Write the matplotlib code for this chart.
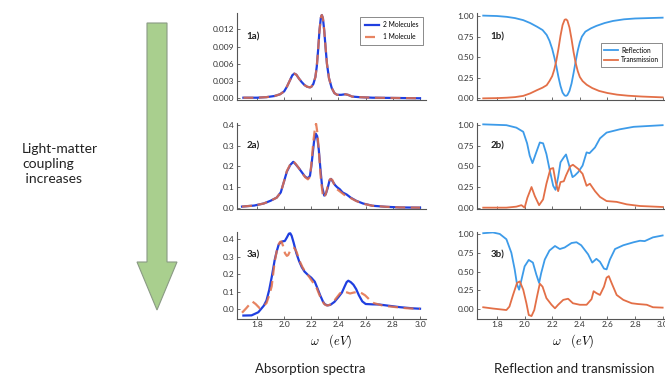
import matplotlib
matplotlib.use("Agg")
import matplotlib.pyplot as plt
from matplotlib.patches import Polygon

plt.rcParams["font.family"] = ["Lato", "DejaVu Sans"]
plt.rcParams["mathtext.fontset"] = "cm"

# ----------------------------------------------------------------------------
# Data
# ----------------------------------------------------------------------------
# 1a) absorption, weak coupling (both curves coincide)
abs1_x = [1.70, 1.80, 1.87, 1.93, 1.97, 2.00, 2.02, 2.04, 2.06, 2.075, 2.09, 2.11,
          2.13, 2.15, 2.17, 2.19, 2.20, 2.215, 2.23, 2.24, 2.25, 2.26, 2.27, 2.277,
          2.285, 2.295, 2.305, 2.315, 2.33, 2.35, 2.37, 2.39, 2.42, 2.45, 2.47,
          2.50, 2.55, 2.65, 3.0]
abs1_two = [0.0001, 0.0001, 0.0002, 0.0004, 0.0007, 0.0012, 0.0020, 0.0030, 0.0040,
            0.0043, 0.0041, 0.0034, 0.0028, 0.0023, 0.0020, 0.0019, 0.0020, 0.0025,
            0.0037, 0.0055, 0.0084, 0.0118, 0.0140, 0.0145, 0.0140, 0.0118, 0.0088,
            0.0060, 0.0035, 0.0018, 0.0009, 0.0006, 0.0006, 0.0007, 0.0006, 0.0003,
            0.0002, 0.0001, 0.0000]
abs1_one = abs1_two

# 2a) absorption, medium coupling
abs2_x_two = [1.69, 1.78, 1.85, 1.90, 1.945, 1.975, 2.00, 2.02, 2.045, 2.067, 2.085,
              2.11, 2.13, 2.155, 2.175, 2.19, 2.20, 2.21, 2.22, 2.233, 2.243, 2.255,
              2.268, 2.28, 2.295, 2.305, 2.32, 2.335, 2.345, 2.36, 2.375, 2.39, 2.41,
              2.43, 2.46, 2.49, 2.53, 2.58, 2.65, 2.75, 2.85, 3.0]
abs2_two = [0.007, 0.012, 0.022, 0.035, 0.050, 0.075, 0.130, 0.175, 0.207, 0.222, 0.210,
            0.190, 0.172, 0.150, 0.143, 0.155, 0.200, 0.260, 0.320, 0.357, 0.345, 0.280,
            0.180, 0.100, 0.060, 0.065, 0.095, 0.135, 0.140, 0.125, 0.110, 0.100, 0.090,
            0.075, 0.065, 0.050, 0.035, 0.022, 0.011, 0.006, 0.003, 0.002]
abs2_x_one = [1.69, 1.78, 1.85, 1.90, 1.945, 1.975, 2.00, 2.02, 2.045, 2.067, 2.085,
              2.11, 2.13, 2.155, 2.175, 2.19, 2.20, 2.215, 2.228, 2.235, 2.245, 2.258,
              2.27, 2.285, 2.295, 2.31, 2.325, 2.34, 2.355, 2.37, 2.39, 2.42, 2.45,
              2.49, 2.53, 2.58, 2.65, 2.75, 2.85, 3.0]
abs2_one = [0.007, 0.012, 0.022, 0.035, 0.050, 0.075, 0.130, 0.178, 0.210, 0.225, 0.212,
            0.190, 0.170, 0.148, 0.138, 0.150, 0.210, 0.320, 0.390, 0.405, 0.360, 0.250,
            0.140, 0.060, 0.050, 0.075, 0.120, 0.140, 0.135, 0.110, 0.090, 0.075, 0.060,
            0.048, 0.034, 0.021, 0.011, 0.006, 0.003, 0.002]

# 3a) absorption, strong coupling
abs3_x_two = [1.70, 1.76, 1.81, 1.85, 1.87, 1.89, 1.91, 1.93, 1.945, 1.96, 1.975, 1.99,
              2.005, 2.02, 2.035, 2.045, 2.055, 2.07, 2.09, 2.11, 2.13, 2.15, 2.175,
              2.20, 2.225, 2.245, 2.265, 2.285, 2.30, 2.32, 2.34, 2.37, 2.40, 2.425,
              2.445, 2.46, 2.472, 2.49, 2.51, 2.53, 2.55, 2.575, 2.60, 2.65, 2.70,
              2.75, 2.85, 2.95, 3.0]
abs3_two = [-0.036, -0.035, -0.017, 0.020, 0.050, 0.110, 0.190, 0.280, 0.330, 0.370,
            0.383, 0.388, 0.390, 0.410, 0.432, 0.434, 0.420, 0.380, 0.320, 0.275, 0.240,
            0.215, 0.196, 0.180, 0.158, 0.120, 0.080, 0.045, 0.028, 0.022, 0.025, 0.042,
            0.070, 0.095, 0.130, 0.155, 0.163, 0.155, 0.140, 0.115, 0.080, 0.045, 0.030,
            0.028, 0.027, 0.022, 0.012, 0.005, 0.003]
abs3_x_one = [1.69, 1.72, 1.748, 1.766, 1.79, 1.82, 1.85, 1.87, 1.89, 1.908, 1.93, 1.945,
              1.957, 1.97, 1.98, 1.993, 2.006, 2.02, 2.03, 2.045, 2.06, 2.075, 2.09,
              2.117, 2.135, 2.154, 2.18, 2.20, 2.22, 2.24, 2.258, 2.276, 2.295, 2.313,
              2.335, 2.36, 2.385, 2.41, 2.43, 2.455, 2.485, 2.51, 2.546, 2.57, 2.595,
              2.615, 2.63, 2.66, 2.73, 2.80, 2.90, 3.0]
abs3_one = [-0.020, 0.005, 0.030, 0.044, 0.030, 0.006, 0.020, 0.035, 0.080, 0.130, 0.270,
            0.330, 0.367, 0.385, 0.387, 0.360, 0.320, 0.305, 0.310, 0.335, 0.350, 0.350,
            0.330, 0.270, 0.240, 0.215, 0.190, 0.167, 0.145, 0.120, 0.085, 0.053, 0.030,
            0.021, 0.025, 0.040, 0.065, 0.090, 0.102, 0.098, 0.090, 0.095, 0.100, 0.092,
            0.080, 0.065, 0.053, 0.035, 0.020, 0.014, 0.006, 0.002]

# 1b) reflection / transmission, weak coupling
rt1_x = [1.70, 1.80, 1.87, 1.93, 1.99, 2.04, 2.09, 2.13, 2.16, 2.18, 2.20, 2.215, 2.23,
         2.245, 2.26, 2.275, 2.29, 2.30, 2.31, 2.325, 2.34, 2.355, 2.37, 2.385, 2.40,
         2.415, 2.44, 2.48, 2.52, 2.58, 2.64, 2.72, 2.80, 2.90, 3.0]
refl1 = [1.005, 1.0, 0.99, 0.975, 0.95, 0.915, 0.87, 0.83, 0.77, 0.70, 0.60, 0.50, 0.39,
         0.26, 0.15, 0.07, 0.035, 0.03, 0.04, 0.09, 0.18, 0.31, 0.45, 0.58, 0.68, 0.75,
         0.81, 0.85, 0.88, 0.915, 0.94, 0.96, 0.97, 0.975, 0.98]
rt1_tx = [1.70, 1.80, 1.87, 1.93, 1.99, 2.04, 2.09, 2.13, 2.16, 2.18, 2.20, 2.215, 2.23,
          2.245, 2.26, 2.275, 2.29, 2.30, 2.31, 2.325, 2.34, 2.355, 2.37, 2.385, 2.40,
          2.42, 2.45, 2.49, 2.54, 2.60, 2.67, 2.75, 2.85, 3.0]
trans1 = [0.0, 0.003, 0.008, 0.015, 0.03, 0.06, 0.10, 0.13, 0.16, 0.21, 0.27, 0.35, 0.46,
          0.60, 0.76, 0.89, 0.955, 0.96, 0.945, 0.86, 0.72, 0.56, 0.43, 0.33, 0.26, 0.21,
          0.165, 0.125, 0.09, 0.065, 0.045, 0.032, 0.022, 0.012]

# 2b)
rt2_rx = [1.70, 1.868, 1.94, 1.99, 2.018, 2.037, 2.057, 2.08, 2.11, 2.134, 2.158, 2.18,
          2.207, 2.224, 2.243, 2.26, 2.284, 2.30, 2.323, 2.347, 2.364, 2.388, 2.42, 2.449,
          2.47, 2.51, 2.546, 2.594, 2.69, 2.79, 3.0]
refl2 = [1.01, 1.0, 0.97, 0.92, 0.78, 0.63, 0.54, 0.65, 0.79, 0.78, 0.65, 0.47, 0.265,
         0.216, 0.37, 0.55, 0.61, 0.645, 0.51, 0.37, 0.39, 0.43, 0.51, 0.67, 0.66, 0.73,
         0.84, 0.91, 0.95, 0.98, 1.0]
rt2_tx = [1.70, 1.868, 1.94, 1.977, 2.0, 2.02, 2.05, 2.074, 2.105, 2.134, 2.158, 2.187,
          2.207, 2.225, 2.243, 2.26, 2.284, 2.30, 2.33, 2.35, 2.388, 2.42, 2.449, 2.473,
          2.51, 2.546, 2.594, 2.667, 2.74, 2.836, 3.0]
trans2 = [0.0, 0.0, 0.012, 0.03, 0.0, 0.12, 0.25, 0.14, 0.03, 0.10, 0.29, 0.47, 0.48, 0.31,
          0.20, 0.31, 0.32, 0.39, 0.50, 0.52, 0.47, 0.41, 0.265, 0.29, 0.20, 0.13, 0.08,
          0.07, 0.04, 0.02, 0.008]

# 3b)
rt3_rx = [1.70, 1.77, 1.82, 1.868, 1.904, 1.928, 1.945, 1.96, 1.977, 2.0, 2.03, 2.06,
          2.085, 2.105, 2.12, 2.146, 2.18, 2.22, 2.255, 2.29, 2.34, 2.376, 2.41, 2.46,
          2.49, 2.52, 2.546, 2.575, 2.594, 2.618, 2.655, 2.715, 2.79, 2.836, 2.87, 2.93,
          3.0]
refl3 = [1.01, 1.02, 1.0, 0.93, 0.75, 0.53, 0.33, 0.26, 0.39, 0.57, 0.655, 0.62, 0.46,
         0.35, 0.48, 0.66, 0.78, 0.84, 0.80, 0.82, 0.88, 0.89, 0.85, 0.73, 0.62, 0.67,
         0.63, 0.54, 0.53, 0.66, 0.80, 0.85, 0.89, 0.91, 0.905, 0.955, 0.98]
rt3_tx = [1.70, 1.77, 1.868, 1.89, 1.916, 1.945, 1.965, 1.99, 2.013, 2.03, 2.05, 2.07,
          2.09, 2.11, 2.13, 2.158, 2.195, 2.22, 2.243, 2.28, 2.315, 2.35, 2.40, 2.449,
          2.485, 2.50, 2.52, 2.546, 2.575, 2.594, 2.61, 2.63, 2.667, 2.715, 2.776, 2.82,
          2.885, 2.93, 3.0]
trans3 = [0.027, 0.01, -0.01, 0.036, 0.19, 0.35, 0.37, 0.26, 0.08, -0.076, -0.09, -0.01,
          0.17, 0.34, 0.30, 0.148, 0.06, 0.013, 0.06, 0.125, 0.14, 0.08, 0.06, 0.06, 0.135,
          0.24, 0.215, 0.19, 0.30, 0.42, 0.44, 0.35, 0.19, 0.125, 0.08, 0.07, 0.06, 0.027,
          0.022]

x_ticks = [1.8, 2.0, 2.2, 2.4, 2.6, 2.8, 3.0]
abs_yticks = [[0.0, 0.003, 0.006, 0.009, 0.012], [0.0, 0.1, 0.2, 0.3, 0.4],
              [0.0, 0.1, 0.2, 0.3, 0.4]]
abs_yfmt = ["{:.3f}", "{:.1f}", "{:.1f}"]
abs_ylims = [(-0.0003, 0.0148), (-0.006, 0.41), (-0.054, 0.443)]
rt_yticks = [0.0, 0.25, 0.5, 0.75, 1.0]
rt_ylims = [(-0.02, 1.033), (-0.02, 1.03), (-0.125, 1.03)]

BLUE_ABS = "#1f3fe0"
ORANGE = "#E36F47"
BLUE_RT = "#3d9be9"

W, H = 665, 378


def px_rect(x0, y0, x1, y1):
    """Axes rect from pixel box (top-left origin)."""
    return [x0 / W, 1 - y1 / H, (x1 - x0) / W, (y1 - y0) / H]


def style(ax, xlim, ylim, yticks, yfmt, show_x):
    ax.set_xlim(*xlim)
    ax.set_ylim(*ylim)
    for s in ("top", "right"):
        ax.spines[s].set_visible(False)
    for s in ("left", "bottom"):
        ax.spines[s].set_color("#555555")
        ax.spines[s].set_linewidth(0.8)
    ax.set_xticks(x_ticks)
    ax.set_yticks(yticks)
    ax.set_yticklabels([yfmt.format(v) for v in yticks])
    if not show_x:
        ax.set_xticklabels([])
    else:
        ax.set_xticklabels([f"{v:.1f}" for v in x_ticks])
    ax.tick_params(direction="in", length=2, width=0.6, color="#555555",
                   labelsize=6, labelcolor="#333333", pad=2)
    ax.patch.set_alpha(0)


fig = plt.figure(figsize=(6.65, 3.78), dpi=100)

rows = [(13.3, 100.0), (122.7, 209.3), (231.7, 318.7)]
abs_data = [(abs1_x, abs1_two, abs1_x, abs1_one),
            (abs2_x_two, abs2_two, abs2_x_one, abs2_one),
            (abs3_x_two, abs3_two, abs3_x_one, abs3_one)]
rt_data = [(rt1_x, refl1, rt1_tx, trans1),
           (rt2_rx, refl2, rt2_tx, trans2),
           (rt3_rx, refl3, rt3_tx, trans3)]

for i, (top, bot) in enumerate(rows):
    # absorption column
    ax = fig.add_axes(px_rect(237, top, 426, bot))
    xa, ya, xb, yb = abs_data[i]
    ax.plot(xa, ya, color=BLUE_ABS, lw=1.6, label="2 Molecules")
    ax.plot(xb, yb, color=ORANGE, lw=1.6, alpha=0.85, dashes=(4.5, 2.5),
            label="1 Molecule")
    style(ax, (1.653, 3.044), abs_ylims[i], abs_yticks[i], abs_yfmt[i], i == 2)
    ax.text(0.05, 0.70, f"{i + 1}a)", transform=ax.transAxes, fontsize=7,
            fontweight="bold", color="#222222")
    if i == 0:
        leg = ax.legend(loc="upper right", bbox_to_anchor=(1.0, 1.0), fontsize=4.8,
                        handlelength=2.2, frameon=True, fancybox=False,
                        borderpad=0.7, labelspacing=0.7, handletextpad=0.5)
        leg.get_frame().set_edgecolor("#555555")
        leg.get_frame().set_linewidth(0.6)
    if i == 2:
        ax.set_xlabel(r"$\omega\ \ \ (eV)$", fontsize=9, labelpad=3)

    # reflection / transmission column
    ax = fig.add_axes(px_rect(477, top, 668.7, bot))
    xr, yr, xt, yt = rt_data[i]
    ax.plot(xr, yr, color=BLUE_RT, lw=1.3, label="Reflection")
    ax.plot(xt, yt, color=ORANGE, lw=1.3, label="Transmission")
    style(ax, (1.655, 3.044), rt_ylims[i], rt_yticks, "{:.2f}", i == 2)
    ax.text(0.07, 0.70, f"{i + 1}b)", transform=ax.transAxes, fontsize=7,
            fontweight="bold", color="#222222")
    if i == 0:
        leg = ax.legend(loc="center left", bbox_to_anchor=(0.63, 0.52), fontsize=4.8,
                        handlelength=2.0, frameon=True, fancybox=False,
                        borderpad=0.5, labelspacing=0.4, handletextpad=0.5)
        leg.get_frame().set_edgecolor("#555555")
        leg.get_frame().set_linewidth(0.6)
    if i == 2:
        ax.set_xlabel(r"$\omega\ \ \ (eV)$", fontsize=9, labelpad=3)

# green arrow on the left
arrow_px = [(147, 23), (167, 23), (167, 262), (177, 262), (157, 310), (137, 262),
            (147, 262)]
arrow = Polygon([(x / W, 1 - y / H) for x, y in arrow_px], closed=True,
                transform=fig.transFigure, facecolor="#a9cf8e", edgecolor="#8a9a84",
                linewidth=0.8)
fig.add_artist(arrow)

fig.text(22 / W, 1 - 143 / H, "Light-matter\ncoupling\n increases", fontsize=10,
         va="top", ha="left", color="#222222", linespacing=1.3)
fig.text(310 / W, 1 - 369 / H, "Absorption spectra", fontsize=9.5, ha="center",
         va="center", color="#222222")
fig.text(574 / W, 1 - 369 / H, "Reflection and transmission", fontsize=9.5,
         ha="center", va="center", color="#222222")

fig.savefig("out.png", dpi=100, facecolor="white")
